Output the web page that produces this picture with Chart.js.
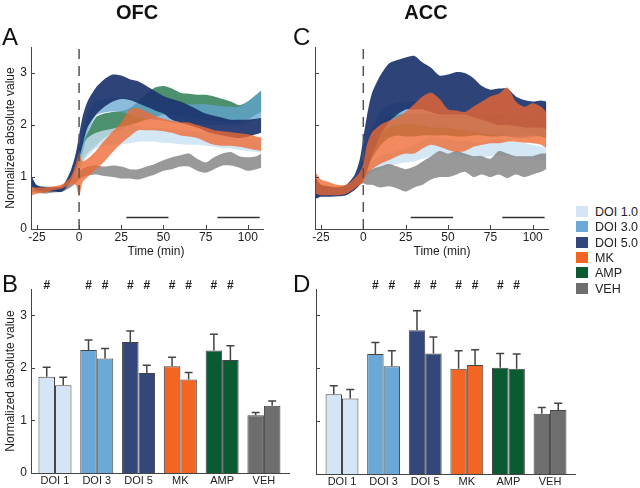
<!DOCTYPE html>
<html>
<head>
<meta charset="utf-8">
<script src="https://cdn.jsdelivr.net/npm/chart.js@4.4.0/dist/chart.umd.min.js"></script>
<style>
body { margin: 0; background: #fff; font-family: Arial, "Liberation Sans", sans-serif; }
#fig { position: relative; width: 640px; height: 488px; overflow: hidden; }
canvas { position: absolute; }
.txt { position: absolute; white-space: nowrap; color: #111; }
.letter { font-size: 24px; line-height: 24px; }
.head { font-size: 20px; line-height: 20px; font-weight: bold; width: 120px; text-align: center; }
.xt { font-size: 12px; line-height: 14px; width: 100px; text-align: center; color: #222; }
.leg { position: absolute; left: 576px; height: 15px; font-size: 12.5px; line-height: 15px; color: #222; z-index: 5; }
.leg span { display: inline-block; width: 12px; height: 11px; vertical-align: -1px; margin-right: 7px; }
</style>
</head>
<body>
<div id="fig">
  <canvas id="chartA" width="300" height="262" style="left:0;top:0"></canvas>
  <canvas id="chartC" width="260" height="262" style="left:300px;top:0"></canvas>
  <canvas id="chartB" width="300" height="226" style="left:0;top:262px"></canvas>
  <canvas id="chartD" width="280" height="226" style="left:300px;top:262px"></canvas>
  <div class="txt head" style="left:77px;top:2px">OFC</div>
  <div class="txt head" style="left:366px;top:2px">ACC</div>
  <div class="txt letter" style="left:2px;top:25px">A</div>
  <div class="txt letter" style="left:293px;top:25px">C</div>
  <div class="txt letter" style="left:2px;top:272px">B</div>
  <div class="txt letter" style="left:293px;top:272px">D</div>
  <div class="txt xt" style="left:106px;top:244px">Time (min)</div>
  <div class="txt xt" style="left:392px;top:244px">Time (min)</div>
  <div id="legend"></div>
</div>
<script>
// time axis (min) shared by every band
const times = [-28,-25,-20,-15,-10,-5,-2,0,2,5,10,15,20,25,30,35,40,45,50,55,60,65,70,75,80,85,90,95,100,105,108];
const timeTicks = [-25, 0, 25, 50, 75, 100];
const valueTicks = [0, 1, 2, 3];

// OFC bands (lower / upper edge)
const ofcDoi1Lo = [0.82,0.76,0.73,0.72,0.72,0.85,0.95,1.1,1.25,1.4,1.55,1.6,1.62,1.63,1.65,1.68,1.68,1.68,1.66,1.65,1.63,1.62,1.62,1.6,1.58,1.55,1.55,1.52,1.5,1.48,1.47];
const ofcDoi1Hi = [0.98,0.84,0.8,0.8,0.8,1.0,1.2,1.45,1.6,1.75,1.85,1.9,1.93,1.97,2.0,1.98,1.95,1.95,1.93,1.92,1.9,1.88,1.88,1.85,1.83,1.8,1.8,1.78,1.75,1.72,1.72];
const ofcDoi3Lo = [0.82,0.76,0.74,0.73,0.73,0.88,1.05,1.25,1.45,1.85,2.18,2.24,2.26,2.25,2.2,2.15,2.12,2.1,2.08,2.05,2.03,2.02,2.0,2.0,2.0,2.0,2.0,2.0,2.05,2.1,2.15];
const ofcDoi3Hi = [0.98,0.84,0.82,0.8,0.82,1.05,1.35,1.6,1.85,2.2,2.46,2.5,2.52,2.52,2.5,2.47,2.45,2.45,2.43,2.42,2.4,2.4,2.4,2.4,2.38,2.36,2.35,2.35,2.45,2.58,2.67];
const ofcDoi5Lo = [0.82,0.74,0.72,0.72,0.72,0.92,1.15,1.35,1.6,1.95,2.2,2.35,2.45,2.5,2.48,2.42,2.35,2.28,2.22,2.1,2.05,2.0,1.95,1.88,1.83,1.8,1.77,1.75,1.77,1.82,1.85];
const ofcDoi5Hi = [1.0,0.84,0.8,0.8,0.82,1.12,1.45,1.8,2.15,2.45,2.72,2.88,2.97,2.95,2.88,2.84,2.75,2.65,2.56,2.5,2.45,2.38,2.3,2.22,2.18,2.14,2.1,2.1,2.1,2.12,2.14];
const ofcMkLo = [0.65,0.68,0.7,0.75,0.78,0.85,0.85,0.62,0.9,1.0,1.15,1.3,1.48,1.65,1.78,1.9,1.9,1.9,1.88,1.85,1.8,1.78,1.75,1.68,1.62,1.6,1.6,1.58,1.55,1.52,1.5];
const ofcMkHi = [0.8,0.8,0.8,0.82,0.86,1.0,1.25,1.45,1.3,1.35,1.5,1.7,1.88,2.05,2.3,2.32,2.25,2.18,2.12,2.08,2.05,2.05,2.0,1.95,1.9,1.88,1.86,1.84,1.82,1.78,1.76];
const ofcAmpLo = [0.78,0.74,0.72,0.72,0.72,0.85,1.0,1.15,1.3,1.45,1.6,1.75,1.85,1.9,2.0,2.05,2.1,2.15,2.2,2.2,2.18,2.15,2.12,2.1,2.08,2.05,2.05,2.05,2.1,2.2,2.25];
const ofcAmpHi = [0.92,0.82,0.8,0.8,0.8,1.0,1.25,1.45,1.65,1.85,2.15,2.22,2.25,2.27,2.32,2.45,2.6,2.72,2.75,2.7,2.62,2.6,2.58,2.58,2.55,2.5,2.45,2.38,2.45,2.58,2.66];
const ofcVehLo = [0.72,0.7,0.68,0.7,0.72,0.8,0.88,0.95,1.0,1.03,1.05,1.02,1.0,0.97,0.97,0.95,1.0,1.05,1.12,1.15,1.2,1.2,1.12,1.08,1.15,1.22,1.22,1.18,1.12,1.15,1.18];
const ofcVehHi = [0.85,0.8,0.78,0.78,0.82,0.95,1.02,1.1,1.15,1.2,1.22,1.2,1.22,1.2,1.15,1.15,1.2,1.25,1.32,1.38,1.42,1.45,1.35,1.28,1.38,1.45,1.48,1.4,1.38,1.4,1.45];

// ACC bands
const accDoi1Lo = [0.65,0.65,0.65,0.65,0.68,0.78,0.85,0.92,1.0,1.08,1.15,1.2,1.25,1.28,1.3,1.35,1.4,1.45,1.45,1.42,1.4,1.38,1.38,1.4,1.42,1.4,1.38,1.35,1.33,1.32,1.3];
const accDoi1Hi = [0.85,0.8,0.78,0.78,0.8,0.9,1.0,1.08,1.2,1.3,1.4,1.45,1.5,1.55,1.62,1.7,1.77,1.75,1.72,1.7,1.7,1.68,1.65,1.7,1.72,1.68,1.68,1.65,1.62,1.58,1.55];
const accDoi3Lo = [0.62,0.65,0.65,0.66,0.68,0.78,0.9,1.05,1.2,1.5,1.8,1.95,2.0,2.02,2.02,2.0,1.95,1.95,1.95,1.92,1.9,1.88,1.85,1.82,1.8,1.78,1.75,1.75,1.78,1.8,1.8];
const accDoi3Hi = [0.9,0.8,0.78,0.78,0.8,0.95,1.15,1.4,1.65,1.95,2.25,2.38,2.43,2.45,2.45,2.42,2.35,2.3,2.28,2.25,2.22,2.2,2.15,2.1,2.12,2.18,2.15,2.15,2.2,2.3,2.45];
const accDoi5Lo = [0.58,0.62,0.62,0.63,0.65,0.75,0.85,0.95,1.1,1.4,1.8,2.05,2.2,2.3,2.3,2.3,2.25,2.2,2.2,2.2,2.2,2.15,2.1,2.05,2.0,2.0,1.98,1.95,1.95,1.95,1.92];
const accDoi5Hi = [0.98,0.85,0.82,0.8,0.85,1.05,1.35,1.75,2.15,2.6,2.95,3.18,3.25,3.3,3.33,3.2,3.1,2.95,2.97,3.02,3.0,2.9,2.75,2.68,2.7,2.7,2.55,2.48,2.45,2.47,2.45];
const accMkLo = [0.68,0.65,0.65,0.65,0.68,0.78,0.85,0.9,1.05,1.15,1.25,1.32,1.4,1.45,1.45,1.55,1.62,1.58,1.52,1.48,1.5,1.58,1.62,1.65,1.65,1.68,1.68,1.66,1.65,1.62,1.55];
const accMkHi = [1.08,0.95,0.9,0.85,0.85,0.98,1.1,1.25,1.6,1.85,2.0,2.08,2.15,2.25,2.4,2.55,2.62,2.5,2.3,2.28,2.25,2.35,2.45,2.55,2.6,2.72,2.45,2.35,2.42,2.35,2.25];
const accAmpLo = [0.65,0.68,0.68,0.68,0.7,0.8,0.9,1.0,1.15,1.35,1.6,1.75,1.8,1.78,1.78,1.8,1.8,1.8,1.8,1.78,1.78,1.8,1.8,1.78,1.78,1.8,1.78,1.8,1.8,1.78,1.75];
const accAmpHi = [0.92,0.85,0.8,0.8,0.82,0.95,1.1,1.3,1.5,1.8,2.05,2.15,2.2,2.22,2.22,2.22,2.22,2.2,2.2,2.2,2.2,2.2,2.2,2.2,2.2,2.2,2.18,2.18,2.18,2.15,2.15];
const accVehLo = [0.62,0.65,0.65,0.66,0.7,0.8,0.85,0.88,0.85,0.85,0.8,0.82,0.78,0.72,0.8,0.85,0.95,1.0,1.0,1.05,1.1,1.0,1.05,1.0,1.05,0.98,1.05,1.0,1.05,1.1,1.15];
const accVehHi = [0.82,0.78,0.78,0.78,0.8,0.92,0.98,1.02,1.1,1.15,1.2,1.25,1.2,1.15,1.2,1.3,1.4,1.5,1.45,1.5,1.45,1.4,1.4,1.35,1.5,1.45,1.4,1.4,1.4,1.45,1.45];

// analysis windows (min) and drug onset
const winStart = [28, 82];
const winEnd = [53, 107];
const winLevel = 0.22;
const onsetTime = 0;

// bar panels: window means + SEM
const barCats = ['DOI 1', 'DOI 3', 'DOI 5', 'MK', 'AMP', 'VEH'];
const ofcEarly = [1.83, 2.34, 2.49, 2.03, 2.33, 1.10];
const ofcEarlyErr = [0.18, 0.19, 0.21, 0.17, 0.31, 0.05];
const ofcLate = [1.67, 2.18, 1.90, 1.78, 2.15, 1.28];
const ofcLateErr = [0.15, 0.19, 0.15, 0.13, 0.27, 0.09];
const accEarly = [1.51, 2.27, 2.72, 1.99, 2.01, 1.14];
const accEarlyErr = [0.16, 0.22, 0.37, 0.34, 0.27, 0.12];
const accLate = [1.43, 2.04, 2.28, 2.06, 1.99, 1.21];
const accLateErr = [0.17, 0.29, 0.31, 0.29, 0.28, 0.13];
const ofcSigEarly = [1, 1, 1, 1, 1, 0];
const ofcSigLate = [0, 1, 1, 1, 1, 0];
const accSigEarly = [0, 1, 1, 1, 1, 0];
const accSigLate = [0, 1, 1, 1, 1, 0];
const sigLevel = 3.56;

const groupNames = ['DOI 1.0', 'DOI 3.0', 'DOI 5.0', 'MK', 'AMP', 'VEH'];
const barColors = ['#d4e6f5', '#6ca8d6', '#33477a', '#f26522', '#0a5a32', '#6e6e6e'];
const bandColors = ['rgba(200,225,243,0.8)', 'rgba(100,165,210,0.75)', 'rgba(28,52,110,0.92)',
                    'rgba(240,105,50,0.78)', 'rgba(45,125,85,0.85)', 'rgba(135,135,135,0.85)'];
const bandLayer = [5, 3, 2, 1, 6, 4]; // smaller = drawn on top

Chart.defaults.font.family = "Arial, 'Liberation Sans', sans-serif";
Chart.defaults.color = '#222';

// short inward tick marks, matlab style
const inTicks = {
  id: 'inTicks',
  afterDraw(chart, args, opts) {
    const ctx = chart.ctx, a = chart.chartArea;
    ctx.save();
    ctx.strokeStyle = '#444';
    ctx.lineWidth = 1;
    chart.scales.y.ticks.forEach(t => {
      const p = Math.round(chart.scales.y.getPixelForValue(t.value)) + 0.5;
      ctx.beginPath(); ctx.moveTo(a.left, p); ctx.lineTo(a.left + 4, p); ctx.stroke();
    });
    if (opts.x) {
      chart.scales.x.ticks.forEach(t => {
        const p = Math.round(chart.scales.x.getPixelForValue(t.value)) + 0.5;
        ctx.beginPath(); ctx.moveTo(p, a.bottom); ctx.lineTo(p, a.bottom - 4); ctx.stroke();
      });
    }
    ctx.restore();
  }
};

// one-sided error bars and significance marks
const errorBars = {
  id: 'errorBars',
  afterDatasetsDraw(chart) {
    const ctx = chart.ctx, y = chart.scales.y;
    ctx.save();
    ctx.strokeStyle = '#444';
    ctx.lineWidth = 1.5;
    ctx.fillStyle = '#222';
    ctx.font = "bold 12px Arial, 'Liberation Sans', sans-serif";
    ctx.textAlign = 'center';
    ctx.textBaseline = 'middle';
    chart.data.datasets.forEach((ds, i) => {
      chart.getDatasetMeta(i).data.forEach((bar, j) => {
        const top = y.getPixelForValue(ds.data[j].y + ds.err[j]);
        ctx.beginPath();
        ctx.moveTo(bar.x, bar.y); ctx.lineTo(bar.x, top);
        ctx.moveTo(bar.x - 4, top); ctx.lineTo(bar.x + 4, top);
        ctx.stroke();
        if (ds.sig[j]) ctx.fillText('#', bar.x, y.getPixelForValue(sigLevel));
      });
    });
    ctx.restore();
  }
};

function bandChart(id, lo, hi, pad, yWidth, showY) {
  const datasets = [];
  lo.forEach((arr, g) => {
    datasets.push({
      data: times.map((t, i) => ({x: t, y: arr[i]})),
      borderWidth: 0, pointRadius: 0, fill: false, tension: 0.25, order: bandLayer[g]
    });
    datasets.push({
      data: times.map((t, i) => ({x: t, y: hi[g][i]})),
      borderWidth: 0, pointRadius: 0, fill: '-1', backgroundColor: bandColors[g],
      tension: 0.25, order: bandLayer[g]
    });
  });
  datasets.push({
    data: [{x: onsetTime, y: 0}, {x: onsetTime, y: 3.5}],
    borderColor: '#555', borderWidth: 1.5, borderDash: [10, 7], pointRadius: 0, order: 0
  });
  winStart.forEach((s, k) => {
    datasets.push({
      data: [{x: s, y: winLevel}, {x: winEnd[k], y: winLevel}],
      borderColor: '#333', borderWidth: 1.5, pointRadius: 0, order: 0
    });
  });
  return new Chart(document.getElementById(id), {
    type: 'line',
    data: {datasets},
    options: {
      responsive: false,
      animation: false,
      events: [],
      layout: {padding: pad},
      plugins: {legend: {display: false}, tooltip: {enabled: false}, inTicks: {x: true}},
      scales: {
        x: {
          type: 'linear', min: -28.5, max: 109,
          grid: {display: false, drawTicks: false},
          border: {color: '#444'},
          ticks: {font: {size: 12}, padding: 1, maxRotation: 0, autoSkip: false},
          afterBuildTicks: s => { s.ticks = timeTicks.map(v => ({value: v})); },
          afterFit: s => { s.height = 33; }
        },
        y: {
          min: 0, max: 3.5,
          grid: {display: false, drawTicks: false},
          border: {color: '#444'},
          ticks: {display: showY, font: {size: 12}, padding: 4},
          title: {display: showY, text: 'Normalized absolute value', font: {size: 12}, padding: {top: 3, bottom: 0}},
          afterBuildTicks: s => { s.ticks = valueTicks.map(v => ({value: v})); },
          afterFit: s => { s.width = yWidth; }
        }
      }
    },
    plugins: [inTicks]
  });
}

function barChart(id, early, earlyErr, sigE, late, lateErr, sigL, xMin, xMax, pad, yWidth, xHeight, showY) {
  const mk = (vals, err, sig) => ({
    data: vals.map((v, i) => ({x: i, y: v})),
    err: err, sig: sig,
    backgroundColor: barColors, borderColor: '#444', borderWidth: 1,
    barPercentage: 1, categoryPercentage: 0.79
  });
  return new Chart(document.getElementById(id), {
    type: 'bar',
    data: {datasets: [mk(early, earlyErr, sigE), mk(late, lateErr, sigL)]},
    options: {
      responsive: false,
      animation: false,
      events: [],
      layout: {padding: pad},
      plugins: {legend: {display: false}, tooltip: {enabled: false}, inTicks: {x: false}},
      scales: {
        x: {
          type: 'linear', min: xMin, max: xMax, offset: false,
          grid: {display: false, drawTicks: false},
          border: {color: '#444'},
          ticks: {font: {size: 11}, padding: 1, maxRotation: 0, autoSkip: false,
                  callback: v => barCats[v]},
          afterBuildTicks: s => { s.ticks = barCats.map((c, i) => ({value: i})); },
          afterFit: s => { s.height = xHeight; }
        },
        y: {
          min: 0, max: 3.5,
          grid: {display: false, drawTicks: false},
          border: {color: '#444'},
          ticks: {display: showY, font: {size: 12}, padding: 4},
          title: {display: showY, text: 'Normalized absolute value', font: {size: 12}, padding: {top: 3, bottom: 0}},
          afterBuildTicks: s => { s.ticks = valueTicks.map(v => ({value: v})); },
          afterFit: s => { s.width = yWidth; }
        }
      }
    },
    plugins: [inTicks, errorBars]
  });
}

bandChart('chartA',
  [ofcDoi1Lo, ofcDoi3Lo, ofcDoi5Lo, ofcMkLo, ofcAmpLo, ofcVehLo],
  [ofcDoi1Hi, ofcDoi3Hi, ofcDoi5Hi, ofcMkHi, ofcAmpHi, ofcVehHi],
  {top: 47, right: 37, left: 0, bottom: 0}, 31, true);

bandChart('chartC',
  [accDoi1Lo, accDoi3Lo, accDoi5Lo, accMkLo, accAmpLo, accVehLo],
  [accDoi1Hi, accDoi3Hi, accDoi5Hi, accMkHi, accAmpHi, accVehHi],
  {top: 47, right: 12, left: 15, bottom: 0}, 0, false);

barChart('chartB', ofcEarly, ofcEarlyErr, ofcSigEarly, ofcLate, ofcLateErr, ofcSigLate,
  -0.574, 5.6, {top: 27, right: 11, left: 0, bottom: 0}, 31, 15, true);

barChart('chartD', accEarly, accEarlyErr, accSigEarly, accLate, accLateErr, accSigLate,
  -0.625, 5.6, {top: 27, right: 5, left: 16, bottom: 0}, 0, 14, false);

// shared legend
const legend = document.getElementById('legend');
groupNames.forEach((name, i) => {
  const row = document.createElement('div');
  row.className = 'leg';
  row.style.top = (205 + i * 15.3) + 'px';
  row.innerHTML = '<span style="background:' + barColors[i] + '"></span>' + name;
  legend.appendChild(row);
});
</script>
</body>
</html>
